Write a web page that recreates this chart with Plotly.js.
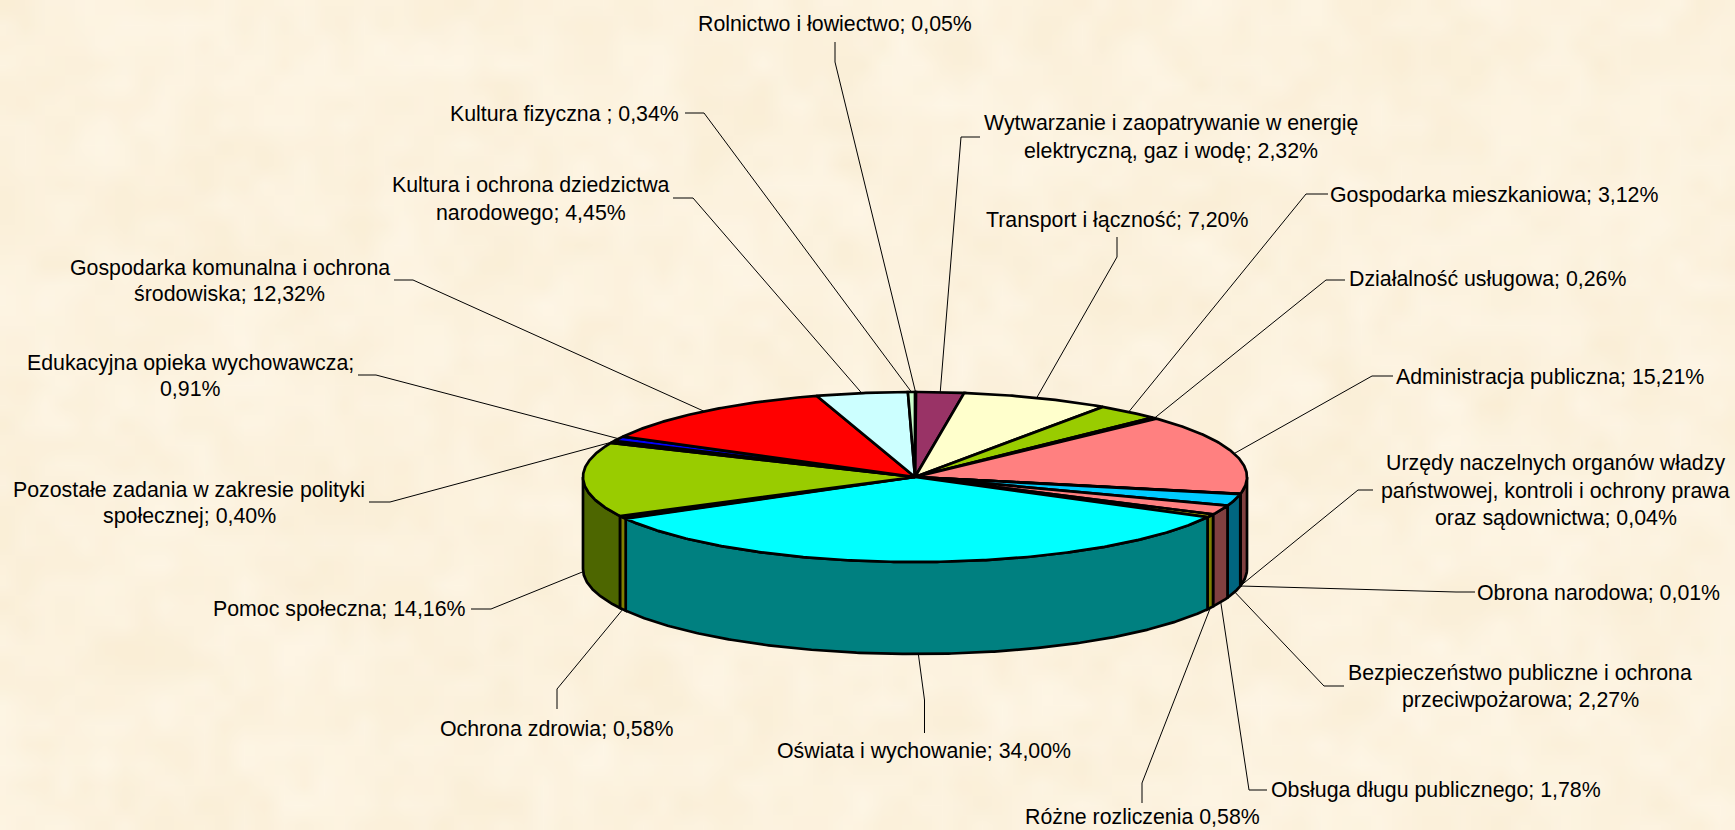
<!DOCTYPE html>
<html>
<head>
<meta charset="utf-8">
<script src="https://cdn.plot.ly/plotly-3.0.1.min.js"></script>
<style>html,body{margin:0;padding:0;background:#FCF2DD;overflow:hidden}#chart{width:1735px;height:830px}</style>
</head>
<body>
<div id="chart"></div>
<script>
// ---------- data, clockwise from 12 o'clock ----------
const categories = [
  "Rolnictwo i łowiectwo", "Wytwarzanie i zaopatrywanie w energię elektryczną, gaz i wodę",
  "Transport i łączność", "Gospodarka mieszkaniowa", "Działalność usługowa",
  "Administracja publiczna", "Urzędy naczelnych organów władzy państwowej, kontroli i ochrony prawa oraz sądownictwa",
  "Obrona narodowa", "Bezpieczeństwo publiczne i ochrona przeciwpożarowa",
  "Obsługa długu publicznego", "Różne rozliczenia", "Oświata i wychowanie", "Ochrona zdrowia",
  "Pomoc społeczna", "Pozostałe zadania w zakresie polityki społecznej", "Edukacyjna opieka wychowawcza",
  "Gospodarka komunalna i ochrona środowiska", "Kultura i ochrona dziedzictwa narodowego", "Kultura fizyczna"
];
const values = [0.05, 2.32, 7.20, 3.12, 0.26, 15.21, 0.04, 0.01, 2.27, 1.78, 0.58, 34.00, 0.58, 14.16, 0.40, 0.91, 12.32, 4.45, 0.34];
const labelLines = [
  ["Rolnictwo i łowiectwo; 0,05%"],
  ["Wytwarzanie i zaopatrywanie w energię", "elektryczną, gaz i wodę; 2,32%"],
  ["Transport i łączność; 7,20%"],
  ["Gospodarka mieszkaniowa; 3,12%"],
  ["Działalność usługowa; 0,26%"],
  ["Administracja publiczna; 15,21%"],
  ["Urzędy naczelnych organów władzy", "państwowej, kontroli i ochrony prawa", "oraz sądownictwa; 0,04%"],
  ["Obrona narodowa; 0,01%"],
  ["Bezpieczeństwo publiczne i ochrona", "przeciwpożarowa; 2,27%"],
  ["Obsługa długu publicznego; 1,78%"],
  ["Różne rozliczenia 0,58%"],
  ["Oświata i wychowanie; 34,00%"],
  ["Ochrona zdrowia; 0,58%"],
  ["Pomoc społeczna; 14,16%"],
  ["Pozostałe zadania w zakresie polityki", "społecznej; 0,40%"],
  ["Edukacyjna opieka wychowawcza;", "0,91%"],
  ["Gospodarka komunalna i ochrona", "środowiska; 12,32%"],
  ["Kultura i ochrona dziedzictwa", "narodowego; 4,45%"],
  ["Kultura fizyczna ; 0,34%"]
];

// ---------- styles ----------
const topColors = ["#CCFFCC", "#993366", "#FFFFCC", "#99CC00", "#339966", "#FF8080", "#660066", "#CC99FF",
  "#00CCFF", "#FF8080", "#FFFF00", "#00FFFF", "#FFFF00", "#99CC00", "#808080", "#0000FF", "#FF0000", "#CCFFFF", "#CCFFCC"];
const sideColors = ["#668066", "#4D1A33", "#808066", "#4D6600", "#1A4D33", "#804040", "#330033", "#664D80",
  "#006680", "#804040", "#808000", "#008080", "#808000", "#4D6600", "#404040", "#000080", "#800000", "#668080", "#668066"];

// ---------- layout geometry: pie ellipse and label / leader placement (page pixels) ----------
const CX = 915, CY = 477, RX = 332, RY = 85, DEPTH = 92;
const labelCenters = [
  [[834.7, 24]], [[1171, 123], [1171, 151]], [[1116.6, 220]], [[1493.5, 194.5]], [[1487, 279]],
  [[1550, 376.5]], [[1555.5, 462.5], [1555.5, 490.5], [1555.5, 517.5]], [[1598, 592.5]], [[1520, 672.5], [1520, 699.5]],
  [[1436, 789.5]], [[1142, 817]], [[924, 750.5]], [[556.5, 728.5]], [[339, 608.5]], [[189, 489.5], [189, 515.5]],
  [[190.5, 362.5], [190.5, 388.5]], [[229.5, 267.5], [229.5, 293.5]], [[531, 184.5], [531, 212.5]], [[564, 114]]
];
const leaderStart = [[835,42],[980,137],[1117,237],[1328,194],[1345,280],[1393,376],[1373,490],[1475,592],[1344,686],
  [1267,790],[1142,803],[924.5,733],[557,709],[471,609],[369,502],[358,375],[394,280],[673,198],[685,113]];
const leaderElbow = [[835,62],[961,137],[1117,257],[1306,194],[1326,280],[1372,376],[1358,490],[1456,592],[1324,686],
  [1249,790],[1142,783],[924.5,700],[557,689],[491,609],[390,502],[376,375],[413,280],[693,198],[704,113]];

// ---------- build ----------
const deg = Math.PI / 180;
const total = values.reduce((a, b) => a + b, 0);
const px = a => CX + RX * Math.sin(a * deg);
const py = a => CY - RY * Math.cos(a * deg);
function arc(a0, a1) {
  const n = Math.max(2, Math.ceil(Math.abs(a1 - a0) * 2)), out = [];
  for (let i = 0; i <= n; i++) out.push(a0 + (a1 - a0) * i / n);
  return out;
}
const spans = [];
let run = 0;
values.forEach(v => { spans.push([run / total * 360, (run + v) / total * 360]); run += v; });

const base = { type: "scatter", mode: "lines", fill: "toself", hoverinfo: "skip", showlegend: false,
  line: { color: "#000000", width: 2.7 } };
const traces = [];

// side walls (only the front half of the cake is visible)
spans.forEach(([a, b], i) => {
  const s = Math.max(a, 90), e = Math.min(b, 270);
  if (e <= s) return;
  const t = arc(s, e), r = t.slice().reverse();
  traces.push(Object.assign({}, base, {
    name: categories[i], fillcolor: sideColors[i],
    x: t.map(px).concat(r.map(px), [px(s)]),
    y: t.map(py).concat(r.map(q => py(q) + DEPTH), [py(s)])
  }));
});
// top faces
spans.forEach(([a, b], i) => {
  const t = arc(a, b);
  traces.push(Object.assign({}, base, {
    name: categories[i], fillcolor: topColors[i],
    x: [CX].concat(t.map(px), [CX]),
    y: [CY].concat(t.map(py), [CY])
  }));
});
// leader lines: label stub -> elbow -> rim point at each slice's middle angle
spans.forEach(([a, b], i) => {
  const m = (a + b) / 2, front = m >= 90 && m <= 270;
  traces.push({ type: "scatter", mode: "lines", hoverinfo: "skip", showlegend: false,
    line: { color: "#000000", width: 1 },
    x: [leaderStart[i][0], leaderElbow[i][0], px(m)],
    y: [leaderStart[i][1], leaderElbow[i][1], py(m) + (front ? DEPTH : 0)] });
});

const annotations = [];
labelLines.forEach((lines, i) => lines.forEach((txt, j) => annotations.push({
  text: txt, x: labelCenters[i][j][0], y: labelCenters[i][j][1], xref: "x", yref: "y",
  xanchor: "center", yanchor: "middle", showarrow: false,
  font: { family: "Liberation Sans, Arial, sans-serif", size: 21.33, color: "#000000" }
})));

// mottled paper backdrop, purely decorative (deterministic hash, not data)
function backdrop() {
  const W = 174, H = 83, c = document.createElement("canvas");
  c.width = W; c.height = H;
  const g = c.getContext("2d"), im = g.createImageData(W, H);
  const h = (x, y) => { const s = Math.sin(x * 127.1 + y * 311.7) * 43758.5453; return s - Math.floor(s); };
  const sm = t => t * t * (3 - 2 * t);
  const vn = (x, y) => { const X = Math.floor(x), Y = Math.floor(y), u = sm(x - X), v = sm(y - Y);
    return (h(X, Y) * (1 - u) + h(X + 1, Y) * u) * (1 - v) + (h(X, Y + 1) * (1 - u) + h(X + 1, Y + 1) * u) * v; };
  for (let y = 0; y < H; y++) for (let x = 0; x < W; x++) {
    const n = 0.5 * vn(x / 5, y / 5) + 0.5 * vn(x / 2, y / 2) - 0.5;
    const k = (x + y * W) * 4;
    im.data[k] = 252 + n * 5; im.data[k + 1] = 242 + n * 9; im.data[k + 2] = 222 + n * 18; im.data[k + 3] = 255;
  }
  g.putImageData(im, 0, 0);
  return c.toDataURL("image/png");
}

const hidden = { visible: false, fixedrange: true };
Plotly.newPlot("chart", traces, {
  width: 1735, height: 830,
  margin: { l: 0, r: 0, t: 0, b: 0 },
  paper_bgcolor: "#FCF2DD", plot_bgcolor: "rgba(0,0,0,0)",
  xaxis: Object.assign({ range: [0, 1735] }, hidden),
  yaxis: Object.assign({ range: [830, 0] }, hidden),
  annotations,
  images: [{ source: backdrop(), xref: "paper", yref: "paper", x: 0, y: 1, sizex: 1, sizey: 1,
    sizing: "stretch", xanchor: "left", yanchor: "top", layer: "below" }]
}, { displayModeBar: false, staticPlot: true });
</script>
</body>
</html>
